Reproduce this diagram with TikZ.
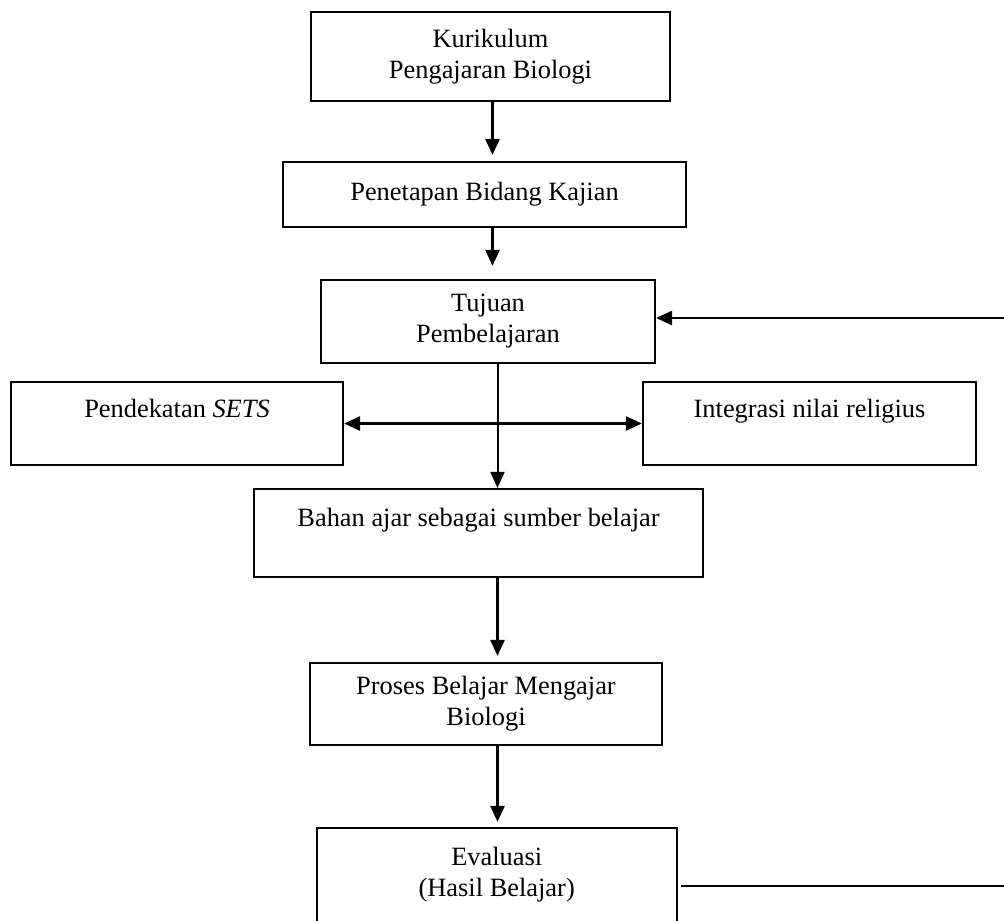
\documentclass[tikz,border=0pt]{standalone}
\usepackage{fontspec}
\setmainfont{Liberation Serif}
\usetikzlibrary{arrows.meta}
\begin{document}
\begin{tikzpicture}[x=1pt,y=-1pt,>={Triangle[length=16pt,width=14pt]},
  kotak/.style={draw, line width=2.2pt, align=center, inner sep=0pt, font=\fontsize{26.4}{31}\selectfont},
  panah/.style={->, line width=2.6pt}]
\useasboundingbox (0,0) rectangle (1004,921);
\clip (0,0) rectangle (1004,921);
\coordinate (atas) at (492.5,0);
\coordinate (tengah) at (497.5,0);
\coordinate (balikA) at (1004,318);
\coordinate (balikB) at (1004,886);
\node[kotak, minimum width=359pt, minimum height=89pt] (kur) at (490.5,56.5) {Kurikulum\\Pengajaran Biologi};
\node[kotak, minimum width=403pt, minimum height=65pt] (bidang) at (484.5,194.5) {Penetapan Bidang Kajian};
\node[kotak, minimum width=334pt, minimum height=83pt] (tujuan) at (488,321.5) {Tujuan\\Pembelajaran};
\node[kotak, minimum width=332pt, minimum height=83pt] (sets) at (177,423.5) {Pendekatan \emph{SETS}\\\mbox{}};
\node[kotak, minimum width=333pt, minimum height=83pt] (religi) at (809.5,423.5) {Integrasi nilai religius\\\mbox{}};
\node[kotak, minimum width=449pt, minimum height=88pt] (bahan) at (478.5,533) {Bahan ajar sebagai sumber belajar\\\mbox{}};
\node[kotak, minimum width=352pt, minimum height=82pt] (proses) at (486,704) {Proses Belajar Mengajar\\Biologi};
\node[kotak, minimum width=360pt, minimum height=118pt] (eval) at (496.7,887) {Evaluasi\\(Hasil Belajar)\\\mbox{}};
% alur utama
\draw[panah, shorten >=6pt] (kur.south -| atas) -- (bidang.north -| atas);
\draw[panah, shorten >=13pt] (bidang.south -| atas) -- (tujuan.north -| atas);
\draw[panah, line width=2pt] (tujuan.south -| tengah) -- (bahan.north -| tengah);
\draw[panah, <->] (sets.east) -- (sets.east -| religi.west);
\draw[panah, shorten >=6pt] (bahan.south -| tengah) -- (proses.north -| tengah);
\draw[panah, shorten >=5pt] (proses.south -| tengah) -- (eval.north -| tengah);
% umpan balik
\draw[line width=2.2pt, shorten <=3pt] (eval.east |- balikB) -- (balikB);
\draw[panah] (balikA) -- (balikA -| tujuan.east);
\end{tikzpicture}
\end{document}
